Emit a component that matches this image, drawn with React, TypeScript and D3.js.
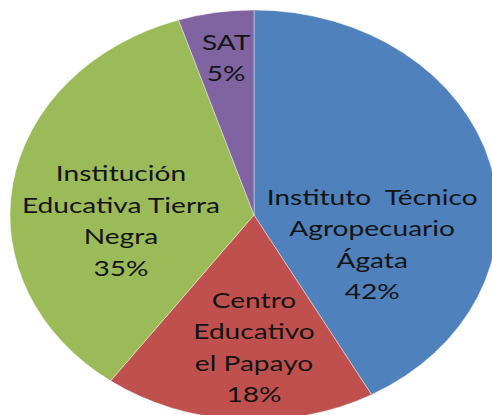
import React, { useEffect, useRef } from 'react';
import * as d3 from 'd3';

// slices, clockwise from 12 o'clock
const categories = [
  'Instituto  Técnico Agropecuario Ágata',
  'Centro Educativo el Papayo',
  'Institución Educativa Tierra Negra',
  'SAT',
];
const labelLines = [
  ['Instituto  Técnico', 'Agropecuario', 'Ágata'],
  ['Centro', 'Educativo', 'el Papayo'],
  ['Institución', 'Educativa Tierra', 'Negra'],
  ['SAT'],
];
const values = [42, 18, 35, 5];
const colors = ['#4F81BD', '#C0504D', '#9BBB59', '#8064A2'];

const App = () => {
  const ref = useRef<SVGSVGElement>(null);

  useEffect(() => {
    const width = 492;
    const height = 415;
    const cx = 254;
    const cy = 215;
    const rx = 244;
    const ry = 205;

    const svg = d3.select(ref.current);
    svg.selectAll('*').remove();

    const pie = d3.pie<number>().sort(null).value(d => d);
    const arcs = pie(values);
    const arc = d3.arc<d3.PieArcDatum<number>>().innerRadius(0).outerRadius(ry);

    const g = svg.append('g')
      .attr('transform', `translate(${cx},${cy}) scale(${rx / ry},1)`);

    g.selectAll('path')
      .data(arcs)
      .join('path')
      .attr('d', arc)
      .attr('fill', (_, i) => colors[i])
      .attr('stroke', '#fff')
      .attr('stroke-opacity', 0.5)
      .attr('stroke-width', 0.8)
      .attr('vector-effect', 'non-scaling-stroke');

    // label placement: offset from the centre as a fraction of rx / ry,
    // along sin / cos of the slice's mid angle ("best fit" style)
    const labelPos = [[0.5, -0.59], [0.0, 0.65], [0.552, -0.19], [0.73, 0.775]];
    const fontSize = 20.5;
    const stretch = 1.37; // the source image is stretched horizontally
    const lineH = 31.5;

    const labels = svg.append('g');
    arcs.forEach((a, i) => {
      const mid = (a.startAngle + a.endAngle) / 2;
      const x = cx + Math.sin(mid) * rx * labelPos[i][0];
      const y = cy - Math.cos(mid) * ry * labelPos[i][1];
      const lines = [...labelLines[i], `${values[i]}%`];
      const top = y - ((lines.length - 1) * lineH) / 2;
      const t = labels.append('text')
        .attr('transform', `translate(${x},0) scale(${stretch},1)`)
        .attr('text-anchor', 'middle')
        .attr('font-family', 'Lato, "Open Sans", sans-serif')
        .attr('font-size', fontSize)
        .attr('fill', '#141414');
      lines.forEach((l, j) => {
        t.append('tspan')
          .attr('x', 0)
          .attr('y', top + j * lineH)
          .attr('dy', '0.35em')
          .style('white-space', 'pre')
          .text(l);
      });
    });

    svg.attr('width', width).attr('height', height);
  }, []);

  return (
    <svg
      ref={ref}
      width={492}
      height={415}
      style={{ position: 'absolute', left: 0, top: 0, background: '#fff' }}
      aria-label={categories.join(', ')}
    />
  );
};

export default App;
